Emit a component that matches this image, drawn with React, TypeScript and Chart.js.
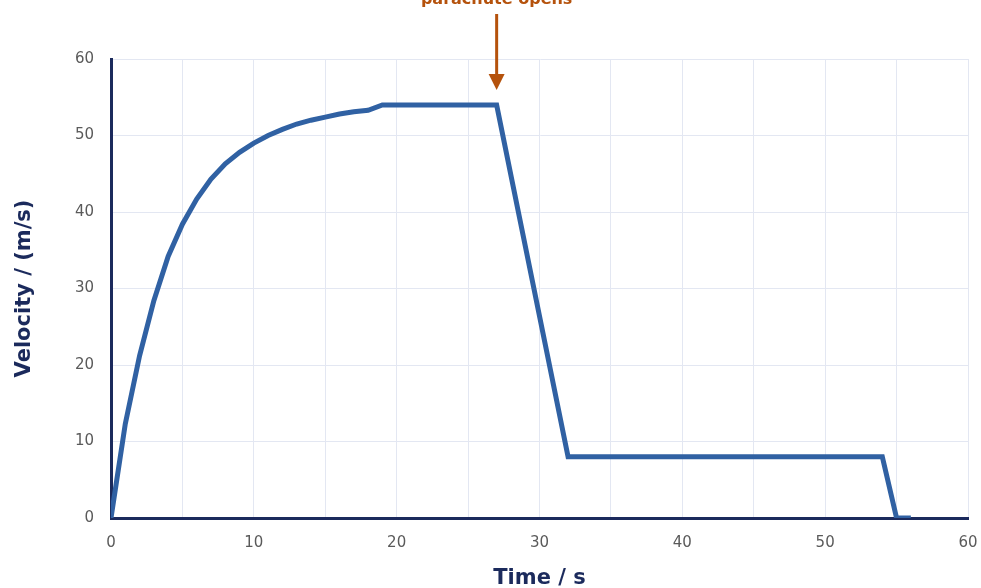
import React, { useEffect, useRef } from "react";
import { Chart, registerables } from "chart.js";

Chart.register(...registerables);

const timeSeconds = [0, 1, 2, 3, 4, 5, 6, 7, 8, 9, 10, 11, 12, 13, 14, 15, 16, 17, 18, 19, 27, 32, 54, 55, 56];
const velocity = [0, 12.3, 21.2, 28.4, 34.2, 38.4, 41.7, 44.3, 46.3, 47.8, 49.0, 50.0, 50.8, 51.5, 52.0, 52.4, 52.8, 53.1, 53.3, 54, 54, 8, 8, 0, 0];
const annotationTime = 27;
const annotationVelocity = 54;
const annotationText = "parachute opens";
const xTitle = "Time / s";
const yTitle = "Velocity / (m/s)";

const NAVY = "#1b2a5c";
const LINE = "#3061a3";
const ORANGE = "#b5520c";
const GRID = "#e3e7f2";
const TICK = "#5a5a5a";
const TITLE_FONT = "'DejaVu Sans', sans-serif";
const TICK_FONT = "'DejaVu Sans', sans-serif";

const annotationPlugin = {
  id: "parachuteAnnotation",
  afterDraw(chart: any) {
    const { ctx, scales } = chart;
    const x = scales.x.getPixelForValue(annotationTime);
    const yVal = scales.y.getPixelForValue(annotationVelocity);
    const tipY = yVal - 15;
    const topY = 14;
    ctx.save();
    ctx.strokeStyle = ORANGE;
    ctx.fillStyle = ORANGE;
    ctx.lineWidth = 3;
    ctx.beginPath();
    ctx.moveTo(x, topY);
    ctx.lineTo(x, tipY - 12);
    ctx.stroke();
    ctx.beginPath();
    ctx.moveTo(x - 8, tipY - 16);
    ctx.lineTo(x + 8, tipY - 16);
    ctx.lineTo(x, tipY);
    ctx.closePath();
    ctx.fill();
    ctx.font = `bold 16px ${TITLE_FONT}`;
    ctx.textAlign = "center";
    ctx.textBaseline = "alphabetic";
    ctx.fillText(annotationText, x, 4);
    ctx.restore();
  },
};

export default function App() {
  const ref = useRef<HTMLCanvasElement>(null);
  useEffect(() => {
    document.body.style.margin = "0";
    const canvas = ref.current;
    if (!canvas) return;
    const chart = new Chart(canvas, {
      type: "line",
      data: {
        datasets: [
          {
            data: timeSeconds.map((t, i) => ({ x: t, y: velocity[i] })),
            borderColor: LINE,
            borderWidth: 5,
            pointRadius: 0,
            tension: 0,
            fill: false,
          },
        ],
      },
      options: {
        responsive: false,
        animation: false,
        layout: { padding: { top: 59, right: 13, left: 0, bottom: 0 } },
        plugins: { legend: { display: false }, tooltip: { enabled: false } },
        scales: {
          x: {
            type: "linear",
            min: 0,
            max: 60,
            afterFit: (s: any) => {
              s.height = 70;
              s.paddingLeft = 0;
              s.paddingRight = 0;
            },
            grid: { color: GRID, lineWidth: 1, drawTicks: false },
            border: { color: NAVY, width: 3 },
            ticks: {
              stepSize: 5,
              padding: 16,
              color: TICK,
              font: { family: TICK_FONT, size: 15 },
              maxRotation: 0,
              callback: (v: any) => (Number(v) % 10 === 0 ? String(v) : ""),
            },
            title: {
              display: true,
              text: xTitle,
              color: NAVY,
              font: { family: TITLE_FONT, size: 21, weight: "bold" },
              padding: { top: 0, bottom: -3 },
            },
          },
          y: {
            min: 0,
            max: 60,
            afterFit: (s: any) => {
              s.width = 111;
              s.paddingTop = 0;
              s.paddingBottom = 0;
            },
            grid: { color: GRID, lineWidth: 1, drawTicks: false },
            border: { color: NAVY, width: 3 },
            ticks: {
              stepSize: 10,
              padding: 17,
              color: TICK,
              font: { family: TICK_FONT, size: 15 },
            },
            title: {
              display: true,
              text: yTitle,
              color: NAVY,
              font: { family: TITLE_FONT, size: 21, weight: "bold" },
              padding: { top: 12, bottom: 0 },
            },
          },
        },
      },
      plugins: [annotationPlugin],
    });
    return () => chart.destroy();
  }, []);
  return <canvas ref={ref} width={981} height={588} style={{ display: "block" }} />;
}
